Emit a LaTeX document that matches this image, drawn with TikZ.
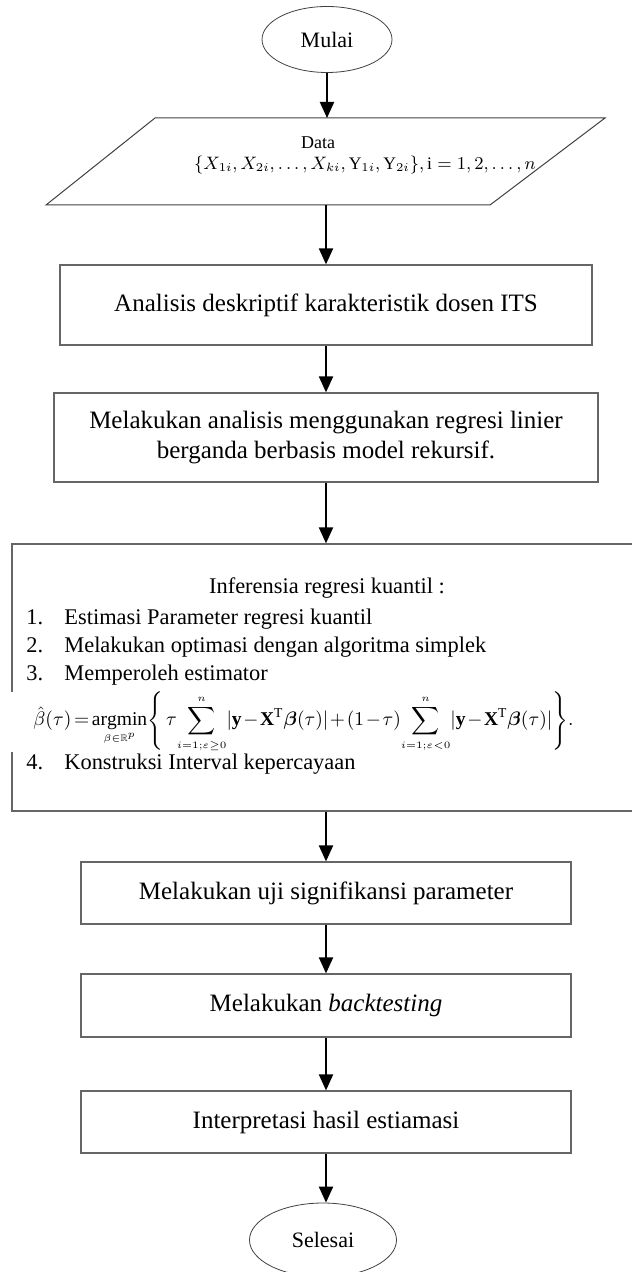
\documentclass[tikz,border=0pt]{standalone}
\usepackage{amsmath}
\usepackage{amssymb}
\usepackage{bm}
\usepackage{graphicx}
\usepackage{fontspec}
\setmainfont{Liberation Serif}
\usetikzlibrary{positioning,calc,shapes.geometric,arrows.meta}

\begin{document}
\begin{tikzpicture}[
    x=0.5pt, y=-0.5pt,
    terminal/.style={ellipse, draw=black!75, line width=0.4pt, inner sep=0pt, font=\fontsize{11}{13}\selectfont},
    process/.style={rectangle, draw=black!60, line width=0.6pt, align=center, font=\fontsize{12.5}{15}\selectfont},
    arrow/.style={-{Triangle[length=8pt,width=7pt]}, line width=1pt},
    step text/.style={anchor=west, inner sep=0pt, text height=8pt, text depth=2.5pt, font=\fontsize{11.2}{13}\selectfont}
]
\useasboundingbox (0,0) rectangle (631,1272);

% Define node positions
\node[terminal, minimum width=65pt, minimum height=33pt] (mulai) at (327,39.5) {Mulai};

% Data parallelogram
\coordinate (dtl) at (155,118);
\coordinate (dtr) at (605,118);
\coordinate (dbr) at (490,205);
\coordinate (dbl) at (46,205);
\draw[draw=black!75, line width=0.5pt] (dtl) -- (dtr) -- (dbr) -- (dbl) -- cycle;
\coordinate (data top) at (327,118);
\coordinate (data bot) at (326,205);
\node[font=\fontsize{9}{11}\selectfont] (data) at (318,143) {Data};
\node[font=\fontsize{8.8}{11}\selectfont] (datavar) at (365,165)
    {$\{X_{1i},X_{2i},\ldots,X_{ki},\mathrm{Y}_{1i},\mathrm{Y}_{2i}\},\mathrm{i}=1,2,\ldots,n$};

\node[process, minimum width=266pt, minimum height=40pt] (deskriptif) at (326,305)
    {Analisis deskriptif karakteristik dosen ITS};
\node[process, minimum width=272pt, minimum height=44.5pt] (rekursif) at (326,437.5)
    {Melakukan analisis menggunakan regresi linier\\berganda berbasis model rekursif.};

% Inference box
\node[process, minimum width=324pt, minimum height=133.5pt] (inferensi) at (336,677.5) {};
\node[font=\fontsize{11.2}{13}\selectfont] (judul) at (327,588) {Inferensia regresi kuantil :};
\node[step text] (n1) at (26,619) {1.};
\node[step text] (s1) at (64,619) {Estimasi Parameter regresi kuantil};
\node[step text] (n2) at (26,647) {2.};
\node[step text] (s2) at (64,647) {Melakukan optimasi dengan algoritma simplek};
\node[step text] (n3) at (26,675) {3.};
\node[step text] (s3) at (64,675) {Memperoleh estimator};
\node[anchor=west, fill=white, inner xsep=12pt, inner ysep=0pt] (estimator) at (9,722)
    {\resizebox{270pt}{!}{\medmuskip=1.5mu\thickmuskip=2.5mu$\displaystyle \hat{\beta}(\tau)=\operatorname*{argmin}_{\scriptscriptstyle\beta\in\mathbb{R}^p}\Biggl\{\,\tau\!\sum_{\scriptscriptstyle i=1;\varepsilon\ge 0}^{\scriptscriptstyle n}\!|\mathbf{y}-\mathbf{X}^{\mathrm{T}}\bm{\beta}(\tau)|+(1-\tau)\!\sum_{\scriptscriptstyle i=1;\varepsilon<0}^{\scriptscriptstyle n}\!|\mathbf{y}-\mathbf{X}^{\mathrm{T}}\bm{\beta}(\tau)|\Biggr\}.$}};
\node[step text] (n4) at (26,764) {4.};
\node[step text] (s4) at (64,764) {Konstruksi Interval kepercayaan};

\node[process, minimum width=245pt, minimum height=31pt] (uji) at (326,893)
    {Melakukan uji signifikansi parameter};
\node[process, minimum width=245pt, minimum height=31.5pt] (backtest) at (326,1005.5)
    {Melakukan \textit{backtesting}};
\node[process, minimum width=245pt, minimum height=31pt] (interpretasi) at (326,1122)
    {Interpretasi hasil estiamasi};
\node[terminal, minimum width=73.5pt, minimum height=37pt] (selesai) at (323,1240) {Selesai};

% Draw arrows
\draw[arrow] (mulai) -- (data top);
\draw[arrow] (data bot) -- (deskriptif);
\draw[arrow] (deskriptif) -- (rekursif);
\draw[arrow] (rekursif) -- (rekursif.south |- inferensi.north);
\draw[arrow] (uji.north |- inferensi.south) -- (uji);
\draw[arrow] (uji) -- (backtest);
\draw[arrow] (backtest) -- (interpretasi);
\draw[arrow] (interpretasi.south) -- (interpretasi.south |- selesai.north);

\end{tikzpicture}
\end{document}
